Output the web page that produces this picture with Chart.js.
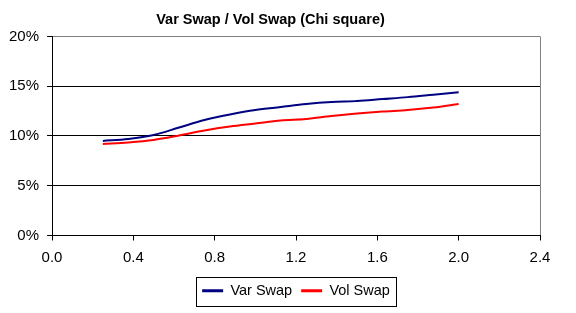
<!DOCTYPE html>
<html>
<head>
<meta charset="utf-8">
<script src="https://cdn.jsdelivr.net/npm/chart.js@4"></script>
<style>
  html, body { margin: 0; padding: 0; background: #fff; }
  #wrap { width: 576px; height: 313px; }
</style>
</head>
<body>
<div id="wrap"><canvas id="chi-chart"></canvas></div>
<script>
"use strict";

/* --- DATA --- */

const maturities = [0.25, 0.375, 0.5, 0.625, 0.75, 0.875, 1.0, 1.125, 1.25, 1.375, 1.5, 1.625, 1.75, 1.875, 2.0];
const var_swap = [9.5, 9.7, 10.1, 10.85, 11.6, 12.15, 12.6, 12.9, 13.2, 13.4, 13.5, 13.7, 13.9, 14.15, 14.4];
const vol_swap = [9.2, 9.35, 9.6, 10.05, 10.55, 10.95, 11.25, 11.55, 11.7, 12.0, 12.25, 12.45, 12.6, 12.85, 13.2];
const series_names = ['Var Swap', 'Vol Swap'];

const FONT = 'Arial, "Liberation Sans", sans-serif';

function to_points(values) {
  return maturities.map((m, i) => ({ x: m, y: values[i] }));
}

/* legend frame like the excel one */
const legend_frame = {
  id: 'legendFrame',
  afterDraw(chart) {
    const boxes = chart.legend && chart.legend.legendHitBoxes;
    if (!boxes || !boxes.length) return;
    let left = Infinity, right = -Infinity, top = Infinity, bottom = -Infinity;
    boxes.forEach(b => {
      left = Math.min(left, b.left);
      right = Math.max(right, b.left + b.width);
      top = Math.min(top, b.top);
      bottom = Math.max(bottom, b.top + b.height);
    });
    const ctx = chart.ctx;
    ctx.save();
    ctx.strokeStyle = '#000';
    ctx.lineWidth = 1;
    ctx.strokeRect(Math.round(left - 6) + 0.5, Math.round(top - 7) + 0.5,
      Math.round(right - left + 12), Math.round(bottom - top + 14));
    ctx.restore();
  }
};

const chi_chart = new Chart(document.getElementById('chi-chart'), {
  type: 'line',
  data: {
    datasets: [{
      label: series_names[0],
      data: to_points(var_swap),
      borderColor: '#000080',
      backgroundColor: '#000080',
      borderWidth: 2,
      pointRadius: 0,
      cubicInterpolationMode: 'monotone'
    }, {
      label: series_names[1],
      data: to_points(vol_swap),
      borderColor: '#FF0000',
      backgroundColor: '#FF0000',
      borderWidth: 2,
      pointRadius: 0,
      cubicInterpolationMode: 'monotone'
    }]
  },
  options: {
    responsive: true,
    maintainAspectRatio: false,
    animation: false,
    layout: {
      padding: { left: 1, right: 36, top: 0, bottom: 5 }
    },
    scales: {
      x: {
        type: 'linear',
        min: 0,
        max: 2.4,
        ticks: {
          stepSize: 0.4,
          color: '#000',
          padding: 8,
          font: { family: FONT, size: 15 },
          callback: v => Number(v).toFixed(1)
        },
        grid: {
          color: c => (c.tick && Math.abs(c.tick.value - 2.4) < 1e-6) ? '#808080' : 'rgba(0,0,0,0)',
          tickColor: '#000',
          tickLength: 5,
          lineWidth: 1
        },
        border: { color: '#000', width: 1 }
      },
      y: {
        min: 0,
        max: 20,
        ticks: {
          stepSize: 5,
          color: '#000',
          padding: 8,
          font: { family: FONT, size: 15 },
          callback: v => v + '%'
        },
        grid: {
          color: c => (c.tick && c.tick.value === 20) ? '#808080' : '#000',
          tickColor: '#000',
          tickLength: 5,
          lineWidth: 1
        },
        border: { color: '#000', width: 1 }
      }
    },
    plugins: {
      title: {
        display: true,
        text: 'Var Swap / Vol Swap (Chi square)',
        color: '#000',
        font: { family: FONT, size: 14.5, weight: 'bold' },
        padding: { top: 11, bottom: 8 }
      },
      legend: {
        display: true,
        position: 'bottom',
        fullSize: false,
        labels: {
          color: '#000',
          boxWidth: 21,
          boxHeight: 3,
          padding: 9,
          font: { family: FONT, size: 14.5 },
          generateLabels(chart) {
            const items = Chart.defaults.plugins.legend.labels.generateLabels(chart);
            items.forEach(i => { i.lineWidth = 0; i.fillStyle = i.strokeStyle; });
            return items;
          }
        }
      },
      tooltip: { enabled: false }
    }
  },
  plugins: [legend_frame]
});
</script>
</body>
</html>
